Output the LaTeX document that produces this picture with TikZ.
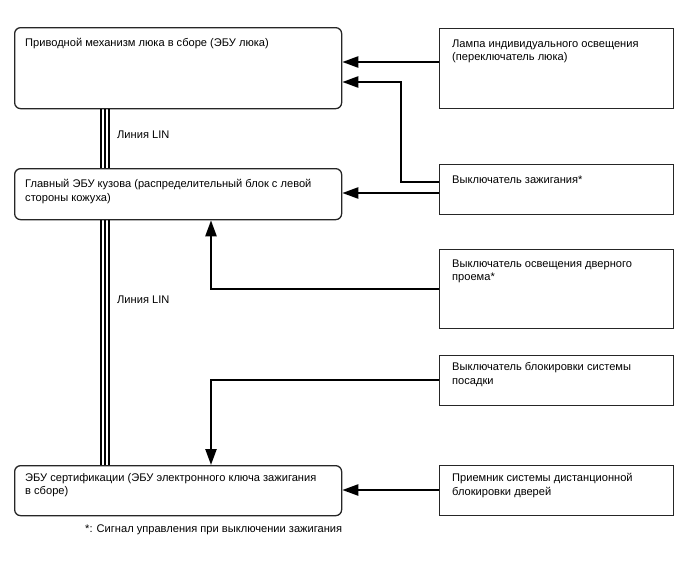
\documentclass[tikz,border=0pt]{standalone}
\usepackage{fontspec}
\setmainfont{Liberation Sans}
\usetikzlibrary{arrows.meta}
\tikzset{
  rbox/.style={draw=black!85, line width=1.3pt, rounded corners=6pt, anchor=north west, inner sep=0pt},
  sbox/.style={draw=black!85, line width=1.3pt, anchor=north west, inner sep=0pt},
  txt/.style={anchor=north west, inner sep=0pt, align=left, font=\fontsize{11.1}{13.2}\selectfont},
  sig/.style={line width=2.4pt, -{Triangle[length=16pt,width=11pt]}},
  lin/.style={line width=2pt},
}
\begin{document}
\begin{tikzpicture}[x=1pt,y=-1pt]
\useasboundingbox[fill=white] (0,0) rectangle (688,560);
% left boxes
\node[rbox, minimum width=327pt, minimum height=81pt] (a) at (14,27) {};
\node[rbox, minimum width=327pt, minimum height=51pt] (b) at (14,168) {};
\node[rbox, minimum width=327pt, minimum height=50pt] (c) at (14,465) {};
% right boxes
\node[sbox, minimum width=234pt, minimum height=80pt] (r1) at (439,28) {};
\node[sbox, minimum width=234pt, minimum height=50pt] (r2) at (439,164) {};
\node[sbox, minimum width=234pt, minimum height=79pt] (r3) at (439,249) {};
\node[sbox, minimum width=234pt, minimum height=50pt] (r4) at (439,355) {};
\node[sbox, minimum width=234pt, minimum height=50pt] (r5) at (439,465) {};
% texts
\node[txt] (at) at (25,38.5) {Приводной механизм люка в сборе (ЭБУ люка)};
\node[txt] (bt) at (25,179.5) {Главный ЭБУ кузова (распределительный блок с левой\\стороны кожуха)};
\node[txt] (ct) at (25,473.5) {ЭБУ сертификации (ЭБУ электронного ключа зажигания\\в сборе)};
\node[txt] (r1t) at (452,39.5) {Лампа индивидуального освещения\\(переключатель люка)};
\node[txt] (r2t) at (452,175.5) {Выключатель зажигания*};
\node[txt] (r3t) at (452,259.5) {Выключатель освещения дверного\\проема*};
\node[txt] (r4t) at (452,362.5) {Выключатель блокировки системы\\посадки};
\node[txt] (r5t) at (452,473.5) {Приемник системы дистанционной\\блокировки дверей};
\node[txt] (lin1) at (117,130.5) {Линия LIN};
\node[txt] (lin2) at (117,295.5) {Линия LIN};
\node[txt] (fn) at (85,525) {*: Сигнал управления при выключении зажигания};
% LIN triple lines
\foreach \dx in {101,105,109}{
  \draw[lin] (a.south west -| {(\dx,0)}) -- (b.north west -| {(\dx,0)});
  \draw[lin] (b.south west -| {(\dx,0)}) -- (c.north west -| {(\dx,0)});
}
% signal connectors
\coordinate (k1) at (401,182);
\coordinate (k2) at (401,82);
\coordinate (k3) at (211,289);
\coordinate (k4) at (211,380);
\draw[sig] (r1.west |- 0,62) -- (a.east |- 0,62);
\draw[sig] (r2.west |- k1) -- (k1) -- (k2) -- (a.east |- k2);
\draw[sig] (r2.west |- 0,193) -- (b.east |- 0,193);
\draw[sig] (r3.west |- k3) -- (k3) -- (k3 |- b.south);
\draw[sig] (r4.west |- k4) -- (k4) -- (k4 |- c.north);
\draw[sig] (r5.west |- 0,490) -- (c.east |- 0,490);
\end{tikzpicture}
\end{document}
